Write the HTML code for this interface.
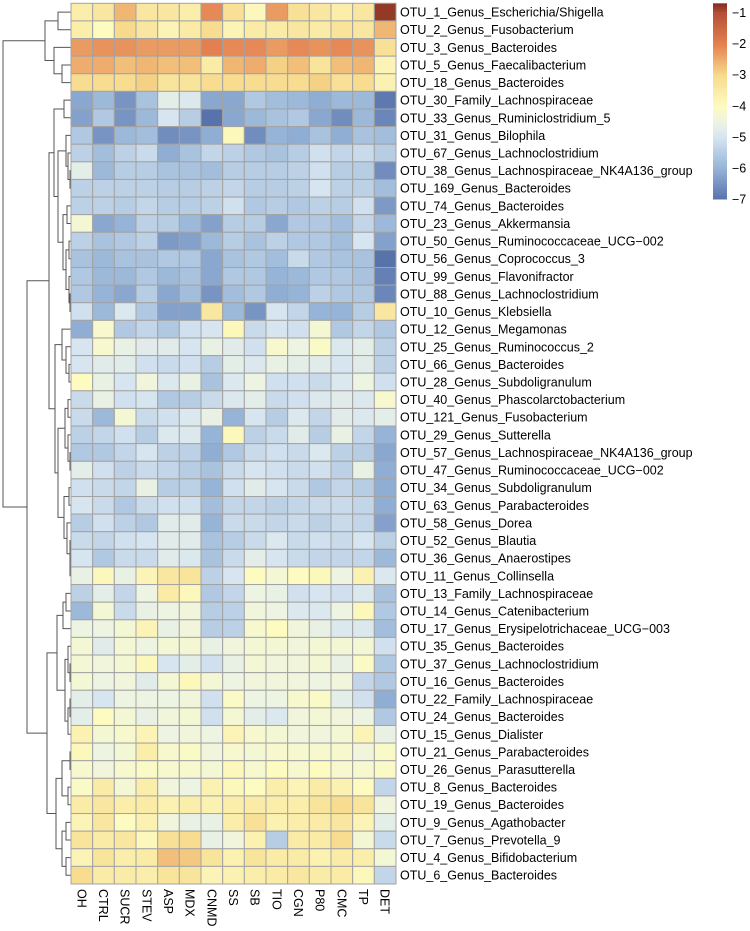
<!DOCTYPE html>
<html><head><meta charset="utf-8"><style>
html,body{margin:0;padding:0;background:#fff;}
svg{display:block;font-family:"Liberation Sans",sans-serif;}
</style></head><body>
<svg id="chart" width="750" height="931" viewBox="0 0 750 931">
<g id="dendro"></g>
<g id="cells"></g>
<g id="rowlabels"></g>
<g id="collabels"></g>
<g id="legend"></g>
</svg>
<script>
const columns = ["OH","CTRL","SUCR","STEV","ASP","MDX","CNMD","SS","SB","TIO","CGN","P80","CMC","TP","DET"];
const rows = ["OTU_1_Genus_Escherichia/Shigella","OTU_2_Genus_Fusobacterium","OTU_3_Genus_Bacteroides","OTU_5_Genus_Faecalibacterium","OTU_18_Genus_Bacteroides","OTU_30_Family_Lachnospiraceae","OTU_33_Genus_Ruminiclostridium_5","OTU_31_Genus_Bilophila","OTU_67_Genus_Lachnoclostridium","OTU_38_Genus_Lachnospiraceae_NK4A136_group","OTU_169_Genus_Bacteroides","OTU_74_Genus_Bacteroides","OTU_23_Genus_Akkermansia","OTU_50_Genus_Ruminococcaceae_UCG\u2212002","OTU_56_Genus_Coprococcus_3","OTU_99_Genus_Flavonifractor","OTU_88_Genus_Lachnoclostridium","OTU_10_Genus_Klebsiella","OTU_12_Genus_Megamonas","OTU_25_Genus_Ruminococcus_2","OTU_66_Genus_Bacteroides","OTU_28_Genus_Subdoligranulum","OTU_40_Genus_Phascolarctobacterium","OTU_121_Genus_Fusobacterium","OTU_29_Genus_Sutterella","OTU_57_Genus_Lachnospiraceae_NK4A136_group","OTU_47_Genus_Ruminococcaceae_UCG\u2212002","OTU_34_Genus_Subdoligranulum","OTU_63_Genus_Parabacteroides","OTU_58_Genus_Dorea","OTU_52_Genus_Blautia","OTU_36_Genus_Anaerostipes","OTU_11_Genus_Collinsella","OTU_13_Family_Lachnospiraceae","OTU_14_Genus_Catenibacterium","OTU_17_Genus_Erysipelotrichaceae_UCG\u2212003","OTU_35_Genus_Bacteroides","OTU_37_Genus_Lachnoclostridium","OTU_16_Genus_Bacteroides","OTU_22_Family_Lachnospiraceae","OTU_24_Genus_Bacteroides","OTU_15_Genus_Dialister","OTU_21_Genus_Parabacteroides","OTU_26_Genus_Parasutterella","OTU_8_Genus_Bacteroides","OTU_19_Genus_Bacteroides","OTU_9_Genus_Agathobacter","OTU_7_Genus_Prevotella_9","OTU_4_Genus_Bifidobacterium","OTU_6_Genus_Bacteroides"];
const values = [
[-3.6,-3.4,-2.6,-3.4,-3.4,-3.6,-2.1,-3.2,-3.9,-2.3,-3.2,-3.4,-3.6,-3.4,-0.8],
[-3.6,-4.0,-3.0,-3.4,-3.8,-3.5,-3.1,-3.8,-3.5,-3.5,-3.4,-3.5,-3.3,-3.4,-2.6],
[-2.3,-2.2,-2.2,-2.3,-2.3,-2.3,-2.0,-2.1,-2.1,-2.3,-2.1,-2.2,-2.1,-2.2,-3.2],
[-2.5,-2.5,-2.7,-2.6,-2.7,-2.7,-3.5,-2.6,-2.5,-2.9,-2.7,-3.3,-2.7,-2.6,-3.8],
[-3.1,-3.1,-3.1,-2.9,-3.3,-3.3,-3.1,-3.1,-3.1,-3.1,-3.1,-2.9,-3.2,-3.1,-3.7],
[-6.2,-5.9,-6.5,-5.7,-4.7,-4.9,-6.2,-6.2,-5.6,-5.8,-5.9,-6.1,-5.9,-5.9,-6.9],
[-6.3,-5.6,-6.5,-5.9,-5.0,-5.5,-7.0,-6.2,-5.9,-5.7,-5.6,-6.2,-6.6,-5.9,-6.7],
[-5.6,-6.5,-5.9,-5.8,-6.6,-6.5,-6.1,-3.9,-6.6,-6.0,-6.1,-5.7,-6.1,-5.7,-5.8],
[-5.4,-5.8,-5.4,-5.2,-6.1,-5.7,-5.3,-5.4,-5.6,-5.7,-5.5,-5.1,-5.3,-5.2,-5.5],
[-4.7,-5.9,-5.5,-5.5,-5.7,-5.7,-5.8,-5.5,-5.5,-5.5,-5.4,-5.1,-5.5,-5.5,-6.6],
[-5.4,-5.4,-5.4,-5.4,-5.5,-5.5,-5.4,-5.3,-5.5,-5.5,-5.4,-5.0,-5.4,-5.4,-5.8],
[-5.4,-5.4,-5.5,-5.3,-5.5,-5.5,-5.4,-5.1,-5.6,-5.5,-5.6,-5.4,-5.5,-5.1,-6.4],
[-4.3,-6.2,-6.0,-5.4,-5.5,-5.9,-6.3,-5.5,-5.5,-6.2,-5.6,-5.6,-5.8,-5.3,-5.9],
[-5.4,-5.7,-5.6,-5.4,-6.4,-6.3,-5.9,-5.5,-5.7,-5.4,-5.6,-5.6,-5.8,-5.0,-6.3],
[-5.7,-5.9,-5.7,-5.7,-5.6,-5.6,-6.2,-5.7,-5.6,-5.8,-5.2,-5.6,-5.7,-5.7,-7.0],
[-5.6,-5.9,-5.9,-5.6,-5.9,-5.7,-6.2,-5.6,-5.6,-6.0,-5.9,-5.6,-5.6,-5.7,-6.8],
[-5.6,-6.0,-6.2,-5.5,-6.2,-5.8,-6.5,-5.8,-5.6,-6.1,-6.0,-5.4,-5.6,-5.6,-6.7],
[-5.1,-5.9,-4.9,-5.6,-6.3,-6.3,-3.4,-5.9,-6.5,-5.0,-5.3,-6.0,-6.0,-5.5,-3.4],
[-6.1,-4.2,-5.6,-5.3,-5.6,-5.1,-5.0,-3.9,-5.2,-5.0,-5.1,-4.3,-5.6,-5.3,-5.6],
[-5.0,-4.2,-4.6,-4.8,-4.8,-5.0,-4.6,-4.8,-5.1,-4.2,-4.5,-4.1,-4.9,-4.7,-5.4],
[-5.0,-4.8,-4.8,-5.1,-5.2,-5.1,-5.5,-4.7,-4.9,-4.6,-4.7,-4.8,-5.0,-4.8,-5.4],
[-4.0,-4.6,-5.0,-4.4,-4.9,-4.6,-5.7,-4.9,-4.5,-5.1,-5.1,-5.2,-4.9,-4.5,-5.1],
[-5.2,-4.6,-5.1,-5.0,-5.6,-5.5,-5.2,-4.9,-4.7,-5.2,-5.1,-4.9,-4.8,-4.9,-4.2],
[-5.2,-5.9,-4.3,-5.2,-5.1,-4.9,-4.6,-6.0,-5.0,-5.5,-4.9,-5.3,-4.8,-4.9,-4.7],
[-5.4,-5.3,-5.1,-5.5,-4.9,-4.9,-6.0,-3.9,-5.4,-5.2,-4.8,-5.5,-4.6,-5.3,-6.0],
[-5.6,-5.6,-5.3,-5.0,-5.4,-5.4,-6.1,-5.6,-5.2,-5.1,-5.2,-4.9,-5.4,-5.5,-6.2],
[-4.7,-5.1,-5.4,-5.2,-5.3,-5.5,-5.7,-5.2,-5.0,-5.1,-5.2,-5.1,-5.4,-4.6,-6.1],
[-5.1,-5.2,-5.3,-4.6,-5.5,-5.4,-6.0,-5.1,-4.8,-5.0,-5.2,-5.6,-5.3,-5.5,-6.1],
[-5.0,-5.2,-5.6,-5.2,-5.1,-5.1,-5.8,-5.3,-5.3,-5.4,-5.3,-5.2,-5.2,-5.3,-6.1],
[-5.5,-5.1,-5.4,-5.6,-4.8,-4.8,-6.0,-5.2,-5.2,-5.3,-5.2,-5.4,-5.2,-5.3,-6.3],
[-5.2,-5.3,-5.1,-5.0,-4.8,-4.8,-5.7,-5.5,-5.2,-4.9,-5.2,-5.1,-5.2,-5.0,-5.4],
[-5.0,-5.6,-5.2,-5.2,-4.8,-4.9,-5.7,-5.2,-4.7,-5.0,-5.2,-5.3,-5.3,-5.3,-5.9],
[-4.6,-3.9,-4.6,-3.8,-3.4,-3.3,-5.4,-5.0,-4.0,-4.3,-4.0,-3.9,-4.5,-3.7,-4.9],
[-5.4,-4.7,-5.3,-4.5,-3.5,-3.9,-5.6,-5.3,-4.5,-4.6,-5.1,-5.0,-5.1,-4.9,-5.7],
[-5.9,-4.3,-5.2,-4.6,-4.5,-4.4,-5.5,-5.4,-4.4,-4.5,-4.9,-4.9,-4.5,-3.9,-5.6],
[-4.5,-4.5,-4.3,-3.8,-4.6,-4.4,-5.5,-5.4,-4.2,-4.0,-4.4,-4.6,-4.9,-4.9,-5.8],
[-4.3,-4.8,-4.3,-4.5,-4.3,-4.3,-4.6,-4.4,-4.3,-4.3,-4.4,-4.3,-4.3,-4.3,-5.1],
[-4.3,-4.4,-4.3,-3.9,-5.0,-4.7,-5.1,-4.6,-4.3,-4.4,-4.4,-4.3,-4.6,-4.1,-5.6],
[-4.3,-4.5,-4.4,-4.8,-4.3,-3.9,-4.3,-4.5,-4.4,-4.4,-4.4,-4.5,-4.4,-5.3,-5.6],
[-4.7,-5.0,-4.5,-4.5,-4.5,-4.4,-5.1,-4.1,-4.5,-4.5,-4.2,-4.1,-4.7,-5.1,-6.1],
[-4.7,-4.0,-4.3,-4.6,-4.4,-4.3,-5.1,-4.3,-4.7,-4.9,-4.4,-4.3,-4.4,-4.5,-5.6],
[-3.7,-4.3,-4.2,-3.8,-4.5,-4.4,-4.5,-3.8,-4.2,-4.3,-4.4,-4.4,-4.3,-3.8,-4.6],
[-3.9,-4.5,-4.3,-3.6,-4.2,-4.1,-4.4,-4.2,-4.3,-4.2,-4.2,-4.2,-4.2,-4.4,-4.1],
[-4.2,-4.4,-4.2,-4.1,-4.2,-4.2,-4.3,-3.9,-4.2,-4.0,-4.2,-4.0,-4.2,-4.2,-4.1],
[-4.1,-3.5,-4.3,-3.6,-4.4,-4.5,-3.7,-3.9,-4.0,-3.6,-3.8,-3.5,-3.7,-4.0,-5.3],
[-3.5,-3.4,-3.6,-3.5,-3.7,-3.6,-3.7,-3.6,-3.5,-3.6,-3.6,-3.3,-3.1,-3.3,-4.4],
[-3.8,-3.4,-4.0,-3.7,-4.4,-4.6,-4.6,-3.6,-3.2,-3.7,-3.6,-3.5,-3.4,-3.8,-4.7],
[-3.3,-3.5,-3.4,-3.9,-3.2,-3.1,-4.6,-4.4,-3.7,-5.5,-3.5,-3.5,-3.1,-4.3,-5.2],
[-3.8,-3.3,-3.6,-3.5,-2.7,-2.8,-3.3,-3.7,-3.3,-3.5,-3.5,-3.7,-3.5,-3.6,-4.3],
[-3.1,-3.5,-3.5,-3.6,-3.3,-3.3,-3.8,-3.7,-3.6,-3.5,-3.4,-3.5,-3.5,-3.9,-5.3]
];
const legendTicks = [-1,-2,-3,-4,-5,-6,-7];
// dendrogram: [left, right, branch x-position]
const tree = [[[0,1,58],[2,[3,4,62],54],45],
 [[[[5,6,64],[[7,[8,[9,10,70],68],66],[[11,12,67],[[13,14,69],[15,[16,17,70],69],66],63],58],54],
   [[18,[19,[20,21,69],66],62],[[[22,23,68],[24,[25,26,70],68],65],[[27,28,69],[29,[30,[31,32,70],70],67],64],58],55],49],
  [[[[33,34,66],35,63],[[36,[37,38,70],68],[[39,40,70],41,68],65],57],
   [[[42,43,70],[44,45,68],62],[[46,47,66],[48,49,66],62],56],47],27],3];

const NS="http://www.w3.org/2000/svg";
const X0=71, Y0=3.3, CW=325/15, RH=880.7/50;
const vmin=-7, vmax=-0.7;
const stops=[[-7,[88,115,172]],[-6,[150,180,216]],[-5,[214,229,240]],[-4.5,[238,244,226]],[-4,[253,251,192]],[-3,[247,218,140]],[-2,[228,128,80]],[-1,[180,80,55]],[-0.7,[130,45,30]]];
function color(v){
  if(v<=stops[0][0]) return "rgb("+stops[0][1]+")";
  for(let i=1;i<stops.length;i++){
    if(v<=stops[i][0]){const a=stops[i-1],b=stops[i];const t=(v-a[0])/(b[0]-a[0]);
      return "rgb("+a[1].map((c,k)=>Math.round(c+(b[1][k]-c)*t)).join(",")+")";}
  }
  return "rgb("+stops[stops.length-1][1]+")";
}
const xCol=i=>X0+i*CW, yRow=j=>Y0+j*RH;
function mk(tag,attrs,parent){const e=document.createElementNS(NS,tag);for(const k in attrs)e.setAttribute(k,attrs[k]);parent.appendChild(e);return e;}

const cells=document.getElementById("cells");
values.forEach((row,j)=>row.forEach((v,i)=>{
  const r=mk("rect",{x:xCol(i),y:yRow(j),width:CW,height:RH,fill:color(v),stroke:"#a3a3a3","stroke-width":1},cells);
  
  
}));
const rl=document.getElementById("rowlabels");
rows.forEach((name,j)=>{
  const t=mk("text",{x:X0+325+4,y:yRow(j)+RH/2+4.5,"font-size":12.5,fill:"#000"},rl);
  t.textContent=name;
  
  
});
const cl=document.getElementById("collabels");
columns.forEach((name,i)=>{
  const cx=xCol(i)+CW/2-4.5, cy=yRow(50)+5;
  const t=mk("text",{x:cx,y:cy,"font-size":12.5,fill:"#000",transform:`rotate(90 ${cx} ${cy})`},cl);
  t.textContent=name;
  
  
});
const dg=document.getElementById("dendro");
function draw(n){
  if(typeof n==="number") return {x:X0,y:yRow(n)+RH/2};
  const a=draw(n[0]),b=draw(n[1]),x=n[2];
  const p=mk("path",{d:`M${a.x},${a.y}H${x}V${b.y}H${b.x}`,fill:"none",stroke:"#555","stroke-width":1},dg);
  
  
  return {x:x,y:(a.y+b.y)/2};
}
draw(tree);
const lg=document.getElementById("legend");
const LY0=3.3, LY1=199, LX=713, LW=14;
const ly=v=>LY1-(v-vmin)/(vmax-vmin)*(LY1-LY0);
const N=120;
for(let k=0;k<N;k++){
  const v0=vmin+(vmax-vmin)*k/N, v1=vmin+(vmax-vmin)*(k+1)/N;
  const r=mk("rect",{x:LX,y:ly(v1),width:LW,height:ly(v0)-ly(v1)+0.5,fill:color((v0+v1)/2)},lg);
  
  
}
legendTicks.forEach(v=>{
  const t=mk("text",{x:LX+LW+5,y:ly(v)+4.5,"font-size":12.5,fill:"#000"},lg);
  t.textContent="\u2212"+Math.abs(v);
  
  
});
</script>
</body></html>
